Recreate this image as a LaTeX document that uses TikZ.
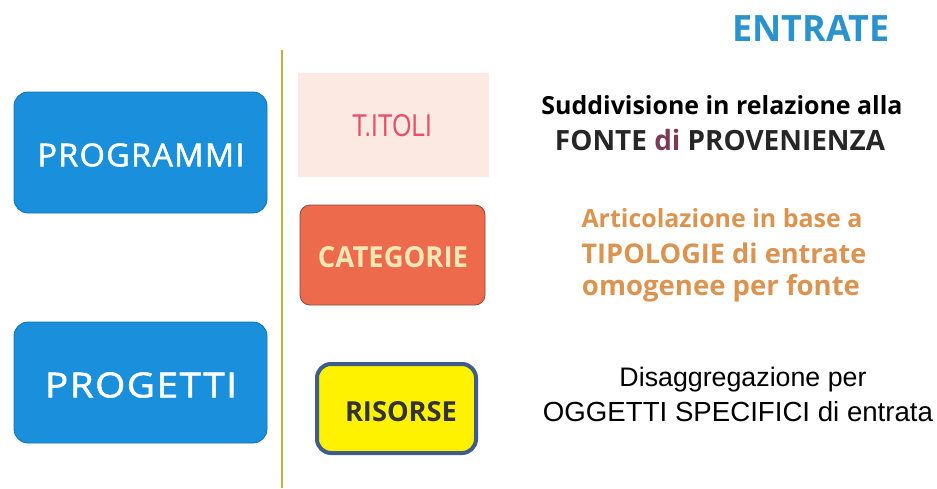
\documentclass[tikz,border=0pt]{standalone}
\usepackage{fontspec}
\usepackage{graphicx}
\setmainfont{Open Sans}
\newfontfamily\arialf{Liberation Sans}
\definecolor{btnblue}{HTML}{1A8FDC}
\definecolor{btnedge}{HTML}{1670B0}
\definecolor{titblue}{HTML}{2A93CE}
\definecolor{vline}{HTML}{B7B83C}
\definecolor{titpink}{HTML}{FCE9E1}
\definecolor{titred}{HTML}{E8506A}
\definecolor{catfill}{HTML}{EE6A4C}
\definecolor{catedge}{HTML}{8A4A34}
\definecolor{cattext}{HTML}{F6E7B4}
\definecolor{risedge}{HTML}{3F5D8C}
\definecolor{ristext}{HTML}{333333}
\definecolor{maroon}{HTML}{7A3A52}
\definecolor{artic}{HTML}{DB9450}
\newcommand{\fitw}[2]{\resizebox{#1pt}{!}{#2}}
\newcommand{\fitwh}[3]{\resizebox{#1pt}{#2pt}{#3}}
\tikzset{
  bluebtn/.style={draw=btnedge, line width=0.8pt, fill=btnblue, rounded corners=14pt},
  txt/.style={inner sep=0pt, anchor=center},
}
\begin{document}
\begin{tikzpicture}[x=1pt, y=-1pt]
\useasboundingbox (0,0) rectangle (937,488);
% title
\node[txt, text=titblue] (entrate) at (811,28) {\fitwh{157}{26}{\bfseries ENTRATE}};
% vertical separator
\coordinate (vtop) at (282,50);
\coordinate (vbot) at (282,488);
\draw[vline, line width=2pt] (vtop) -- (vbot);
% left buttons
\draw[bluebtn] (14,92) rectangle (267,213);
\node[txt, text=white] (programmi) at (141,155) {\fitwh{207}{23}{\addfontfeatures{LetterSpace=4,FakeBold=1.5}PROGRAMMI}};
\draw[bluebtn] (14,322) rectangle (267,443);
\node[txt, text=white] (progetti) at (141,385) {\fitwh{192}{25}{\addfontfeatures{LetterSpace=4,FakeBold=1.5}PROGETTI}};
% middle boxes
\fill[titpink] (298,73) rectangle (489,177);
\node[txt, text=titred] (titoli) at (392,126) {\fitwh{80}{22}{\arialf T.ITOLI}};
\draw[draw=catedge, line width=0.8pt, fill=catfill, rounded corners=10pt] (300,205) rectangle (485,305);
\node[txt, text=cattext] (categorie) at (393,257) {\fitwh{150}{21}{\bfseries CATEGORIE}};
\draw[draw=risedge, line width=4pt, fill=yellow, rounded corners=14pt] (317,364) rectangle (476,453);
\node[txt, text=ristext] (risorse) at (401,412) {\fitwh{112}{20}{\bfseries RISORSE}};
% right descriptions
\node[txt] (sud1) at (722,105) {\fitw{361}{\bfseries Suddivisione in relazione alla}};
\node[txt, text=black!85] (sud2) at (720,140) {\fitw{330}{\bfseries FONTE {\color{maroon}di} PROVENIENZA}};
\node[txt, text=artic] (art1) at (722,218) {\fitw{281}{\bfseries Articolazione in base a}};
\node[txt, text=artic] (art2) at (724,253) {\fitw{285}{\bfseries TIPOLOGIE di entrate}};
\node[txt, text=artic] (art3) at (721,288) {\fitw{278}{\bfseries omogenee per fonte}};
\node[txt] (dis1) at (743,380) {\fitw{247}{\arialf Disaggregazione per}};
\node[txt] (dis2) at (738,412) {\fitw{390}{\arialf OGGETTI SPECIFICI di entrata}};
\end{tikzpicture}
\end{document}
